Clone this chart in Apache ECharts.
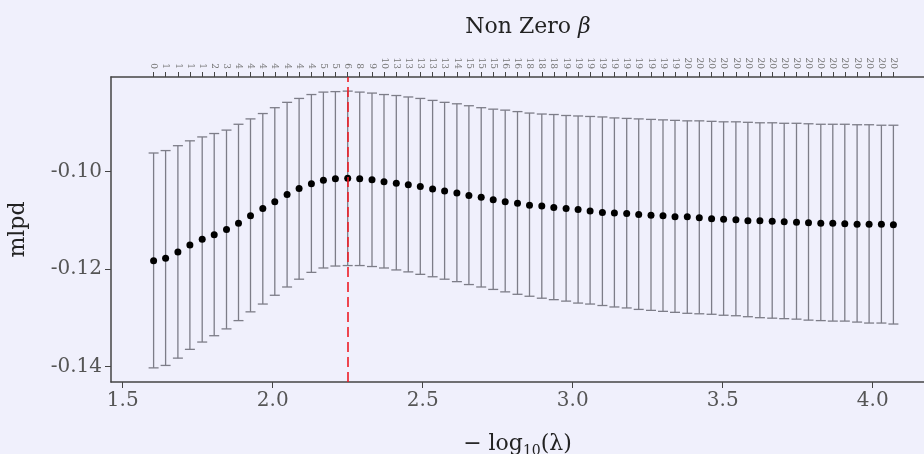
<!DOCTYPE html>
<html>
<head>
<meta charset="utf-8">
<script src="https://cdn.jsdelivr.net/npm/echarts@6/dist/echarts.min.js"></script>
<style>
  html, body { margin: 0; padding: 0; background: #f0f0fc; }
  #main { width: 924px; height: 454px; }
</style>
</head>
<body>
<div id="main"></div>
<script>
// -log10(lambda) for each fit
const negLogLambda = [
  1.603, 1.643, 1.684, 1.724, 1.765, 1.805, 1.846, 1.886, 1.926, 1.967,
  2.007, 2.048, 2.088, 2.129, 2.169, 2.209, 2.250, 2.290, 2.331, 2.371,
  2.412, 2.452, 2.492, 2.533, 2.573, 2.614, 2.654, 2.695, 2.735, 2.775,
  2.816, 2.856, 2.897, 2.937, 2.978, 3.018, 3.058, 3.099, 3.139, 3.180,
  3.220, 3.261, 3.301, 3.341, 3.382, 3.422, 3.463, 3.503, 3.544, 3.584,
  3.624, 3.665, 3.705, 3.746, 3.786, 3.827, 3.867, 3.907, 3.948, 3.988,
  4.029, 4.069
];
const mlpd = [
  -0.1183, -0.1178, -0.1165, -0.1151, -0.1139, -0.1130, -0.1119, -0.1106, -0.1091, -0.1076,
  -0.1062, -0.1047, -0.1035, -0.1025, -0.1018, -0.1015, -0.1014, -0.1015, -0.1017, -0.1021,
  -0.1024, -0.1027, -0.1031, -0.1036, -0.1040, -0.1044, -0.1049, -0.1053, -0.1058, -0.1062,
  -0.1065, -0.1069, -0.1071, -0.1074, -0.1076, -0.1078, -0.1081, -0.1084, -0.1085, -0.1086,
  -0.1088, -0.1090, -0.1091, -0.1093, -0.1093, -0.1095, -0.1097, -0.1098, -0.1099, -0.1101,
  -0.1101, -0.1102, -0.1103, -0.1104, -0.1105, -0.1106, -0.1106, -0.1107, -0.1108, -0.1108,
  -0.1108, -0.1109
];
const upper = [
  -0.0962, -0.0957, -0.0947, -0.0937, -0.0929, -0.0922, -0.0915, -0.0903, -0.0892, -0.0881,
  -0.0869, -0.0858, -0.0850, -0.0842, -0.0837, -0.0836, -0.0835, -0.0837, -0.0839, -0.0842,
  -0.0844, -0.0847, -0.0850, -0.0854, -0.0858, -0.0861, -0.0865, -0.0869, -0.0872, -0.0874,
  -0.0877, -0.0880, -0.0882, -0.0883, -0.0885, -0.0886, -0.0887, -0.0888, -0.0890, -0.0891,
  -0.0892, -0.0893, -0.0894, -0.0895, -0.0896, -0.0896, -0.0897, -0.0898, -0.0898, -0.0899,
  -0.0900, -0.0900, -0.0901, -0.0901, -0.0902, -0.0903, -0.0903, -0.0903, -0.0904, -0.0904,
  -0.0905, -0.0905
];
const lower = [
  -0.1403, -0.1398, -0.1383, -0.1365, -0.1350, -0.1337, -0.1323, -0.1306, -0.1288, -0.1272,
  -0.1254, -0.1237, -0.1221, -0.1207, -0.1198, -0.1194, -0.1193, -0.1193, -0.1195, -0.1198,
  -0.1202, -0.1206, -0.1211, -0.1216, -0.1221, -0.1226, -0.1232, -0.1237, -0.1242, -0.1247,
  -0.1252, -0.1256, -0.1260, -0.1263, -0.1266, -0.1270, -0.1272, -0.1275, -0.1278, -0.1280,
  -0.1283, -0.1285, -0.1287, -0.1289, -0.1291, -0.1292, -0.1293, -0.1295, -0.1296, -0.1298,
  -0.1300, -0.1301, -0.1302, -0.1303, -0.1305, -0.1306, -0.1307, -0.1307, -0.1309, -0.1311,
  -0.1311, -0.1313
];
// number of non zero coefficients (top axis)
const nonZero = [
  0, 1, 1, 1, 1, 2, 3, 4, 4, 4, 4, 4, 4, 4, 5, 5, 6, 8, 9, 10,
  13, 13, 13, 13, 13, 14, 15, 15, 15, 16, 16, 18, 18, 18, 19, 19, 19, 19, 19, 19,
  19, 19, 19, 19, 20, 20, 20, 20, 20, 20, 20, 20, 20, 20, 20, 20, 20, 20, 20, 20,
  20, 20
];
const xTicks = [1.5, 2.0, 2.5, 3.0, 3.5, 4.0];
const yTicks = [-0.14, -0.12, -0.10];
const bestLambda = 2.25;

const font = 'DejaVu Serif';
const axisColor = '#444';

function nearestIdx(v) {
  let best = 0;
  for (let i = 1; i < negLogLambda.length; i++) {
    if (Math.abs(negLogLambda[i] - v) < Math.abs(negLogLambda[best] - v)) best = i;
  }
  return best;
}

const chart = echarts.init(document.getElementById('main'));
chart.setOption({
  animation: false,
  backgroundColor: '#f0f0fc',
  title: {
    text: '{n|Non Zero }{b|β}',
    left: 523, top: 11, textAlign: 'center',
    textStyle: {
      fontWeight: 'normal',
      rich: {
        n: { fontFamily: font, fontSize: 22, color: '#222', fontWeight: 'normal' },
        b: { fontFamily: font, fontSize: 22, color: '#222', fontWeight: 'normal', fontStyle: 'italic' }
      }
    }
  },
  grid: { left: 111, top: 77, right: 0, bottom: 72, outerBoundsMode: 'none', containLabel: false },
  xAxis: [
    {
      type: 'value', min: 1.461, max: 4.171, position: 'bottom',
      name: '{a|− log}{s|10}{a|(λ)}',
      nameLocation: 'middle', nameGap: 49,
      nameTextStyle: {
        rich: {
          a: { fontFamily: font, fontSize: 22, color: '#222', lineHeight: 26, verticalAlign: 'middle' },
          s: { fontFamily: font, fontSize: 14, color: '#222', lineHeight: 14, padding: [14, 0, 0, 0], verticalAlign: 'middle' }
        }
      },
      axisLine: { lineStyle: { color: axisColor, width: 1.5 } },
      axisTick: { customValues: xTicks, length: 6, lineStyle: { color: axisColor } },
      axisLabel: {
        customValues: xTicks, margin: 9,
        fontFamily: font, fontSize: 20, color: '#555',
        formatter: v => v.toFixed(1)
      },
      splitLine: { show: false }
    },
    {
      type: 'value', min: 1.461, max: 4.171, position: 'top',
      axisLine: { lineStyle: { color: axisColor, width: 1.5 } },
      axisTick: { customValues: negLogLambda, length: 5, lineStyle: { color: axisColor } },
      axisLabel: {
        customValues: negLogLambda, rotate: 90, margin: 8,
        fontFamily: font, fontSize: 9, color: '#777',
        formatter: v => String(nonZero[nearestIdx(v)])
      },
      splitLine: { show: false }
    }
  ],
  yAxis: {
    type: 'value', min: -0.1432, max: -0.0806,
    name: 'mlpd', nameLocation: 'middle', nameGap: 82,
    nameTextStyle: { fontFamily: font, fontSize: 22, color: '#222' },
    axisLine: { show: true, lineStyle: { color: axisColor, width: 1.5 } },
    axisTick: { show: true, customValues: yTicks, length: 6, lineStyle: { color: axisColor } },
    axisLabel: {
      customValues: yTicks, margin: 9,
      fontFamily: font, fontSize: 20, color: '#555',
      formatter: v => v.toFixed(2)
    },
    splitLine: { show: false }
  },
  series: [
    {
      type: 'custom',
      silent: true,
      clip: true,
      data: negLogLambda.map((x, i) => [x, lower[i], upper[i]]),
      encode: { x: 0, y: [1, 2] },
      renderItem: function (params, api) {
        const lo = api.coord([api.value(0), api.value(1)]);
        const hi = api.coord([api.value(0), api.value(2)]);
        const hw = 5;
        const style = { stroke: '#7d7d88', lineWidth: 1.3 };
        return {
          type: 'group',
          children: [
            { type: 'line', shape: { x1: lo[0], y1: lo[1], x2: hi[0], y2: hi[1] }, style: style },
            { type: 'line', shape: { x1: lo[0] - hw, y1: lo[1], x2: lo[0] + hw, y2: lo[1] }, style: style },
            { type: 'line', shape: { x1: hi[0] - hw, y1: hi[1], x2: hi[0] + hw, y2: hi[1] }, style: style }
          ]
        };
      },
      z: 2
    },
    {
      type: 'scatter',
      data: negLogLambda.map((x, i) => [x, mlpd[i]]),
      symbolSize: 7,
      itemStyle: { color: '#000', opacity: 1 },
      z: 4,
      markLine: {
        silent: true,
        symbol: 'none',
        label: { show: false },
        lineStyle: { color: '#ee1c25', type: [10, 5], width: 1.6 },
        data: [{ xAxis: bestLambda }]
      }
    }
  ]
});
</script>
</body>
</html>
